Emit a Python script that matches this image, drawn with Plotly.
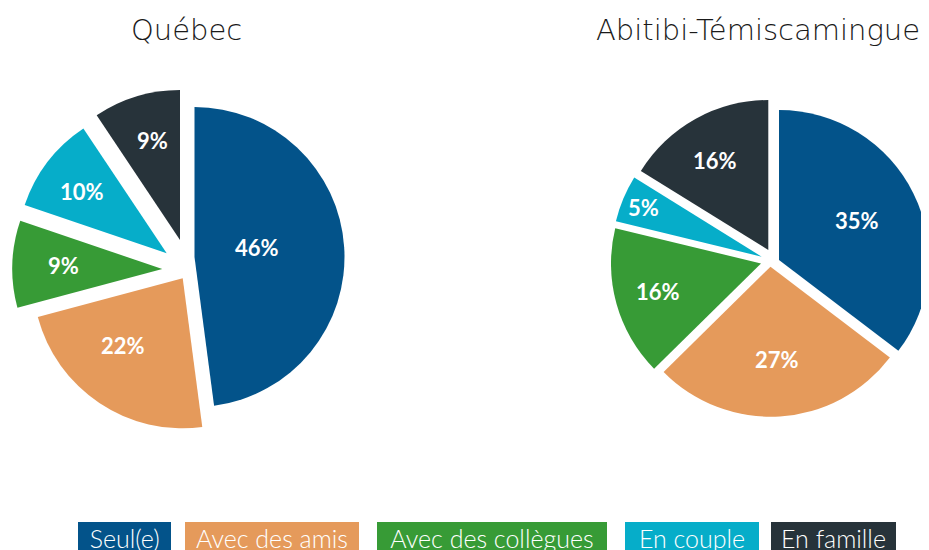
import math
import plotly.graph_objects as go

# ---------------- data ----------------
categories = ["Seul(e)", "Avec des amis", "Avec des collègues", "En couple", "En famille"]
quebec_values = [46, 22, 9, 10, 9]
abitibi_values = [35, 27, 16, 5, 16]
quebec_text = ["46%", "22%", "9%", "10%", "9%"]
abitibi_text = ["35%", "27%", "16%", "5%", "16%"]
titles = ["Québec", "Abitibi-Témiscamingue"]

# ---------------- styles / layout ----------------
colors = ["#03538A", "#E59A5B", "#379B36", "#06ADC9", "#27333A"]
W, H = 929, 550
OFF = 8  # page body margin of the html page
# centre (page px) of each exploded slice, and pie radius
quebec_centres = [(194.5, 257), (182.7, 278.3), (162.3, 269), (166.7, 253.3), (180, 240)]
abitibi_centres = [(779, 260), (770.5, 266.7), (761, 263.5), (761.7, 256.7), (768.3, 250)]
R_q, R_a = 150, 150
# label distance from slice centre (fraction of radius) and angular tweak (deg)
quebec_label_r = [0.422, 0.597, 0.656, 0.697, 0.692]
quebec_label_da = [-5.3, 8.0, 0.4, -1.6, 1.3]
abitibi_label_r = [0.585, 0.623, 0.713, 0.855, 0.697]
abitibi_label_da = [-0.7, -0.4, 0.0, -0.4, -1.5]
title_pos = [(186.3, 30), (758, 30)]
legend_left = [78.3, 185, 376.7, 625, 771]
legend_width = [93.4, 174, 230, 134, 125]
legend_top = 522

TITLE_FONT = "DejaVu Sans"
FONT = "Lato"


def px_x(x):
    return (x - OFF) / W


def px_y(y):
    return 1 - (y - OFF) / H


fig = go.Figure()
annotations = []


def add_pie(values, texts, centres, R, label_r, label_da, name):
    n = len(values)
    total = float(sum(values))
    cum = 0.0
    for k, (cx, cy) in enumerate(centres):
        fig.add_trace(go.Pie(
            name=name,
            labels=categories,
            values=values,
            textinfo="none",
            marker=dict(colors=[colors[i] if i == k else "rgba(0,0,0,0)" for i in range(n)],
                        line=dict(width=0)),
            sort=False,
            direction="clockwise",
            rotation=0,
            showlegend=False,
            hoverinfo="skip",
            domain=dict(x=[px_x(cx - R), px_x(cx + R)],
                        y=[px_y(cy + R), px_y(cy - R)]),
        ))
        # label near the slice's mid-angle (clockwise from 12 o'clock)
        mid = 2 * math.pi * (cum + values[k] / 2.0) / total + math.radians(label_da[k])
        cum += values[k]
        lx = cx + label_r[k] * R * math.sin(mid)
        ly = cy - label_r[k] * R * math.cos(mid)
        annotations.append(dict(text=texts[k], x=px_x(lx), y=px_y(ly), xref="paper", yref="paper",
                                xanchor="center", yanchor="middle", showarrow=False,
                                font=dict(family=FONT, size=22, color="white", weight="bold")))


add_pie(quebec_values, quebec_text, quebec_centres, R_q, quebec_label_r, quebec_label_da, titles[0])
add_pie(abitibi_values, abitibi_text, abitibi_centres, R_a, abitibi_label_r, abitibi_label_da, titles[1])

for t, (tx, ty) in zip(titles, title_pos):
    annotations.append(dict(text=t, x=px_x(tx), y=px_y(ty), xref="paper", yref="paper",
                            xanchor="center", yanchor="middle", showarrow=False,
                            font=dict(family=TITLE_FONT, size=29, color="#1a1a1a", weight=300)))

for cat, col, lx, lw in zip(categories, colors, legend_left, legend_width):
    pad = 2
    annotations.append(dict(text=cat, x=px_x(lx), y=px_y(legend_top), xref="paper", yref="paper",
                            xanchor="left", yanchor="top", showarrow=False,
                            width=lw - 2 * pad, height=28, align="center", valign="middle",
                            bgcolor=col, borderpad=pad, borderwidth=0,
                            font=dict(family=FONT, size=25, color="white", weight=300)))

fig.update_layout(
    width=W, height=H,
    margin=dict(l=0, r=0, t=0, b=0),
    paper_bgcolor="white", plot_bgcolor="white",
    annotations=annotations,
)

fig.write_html("out.html")
